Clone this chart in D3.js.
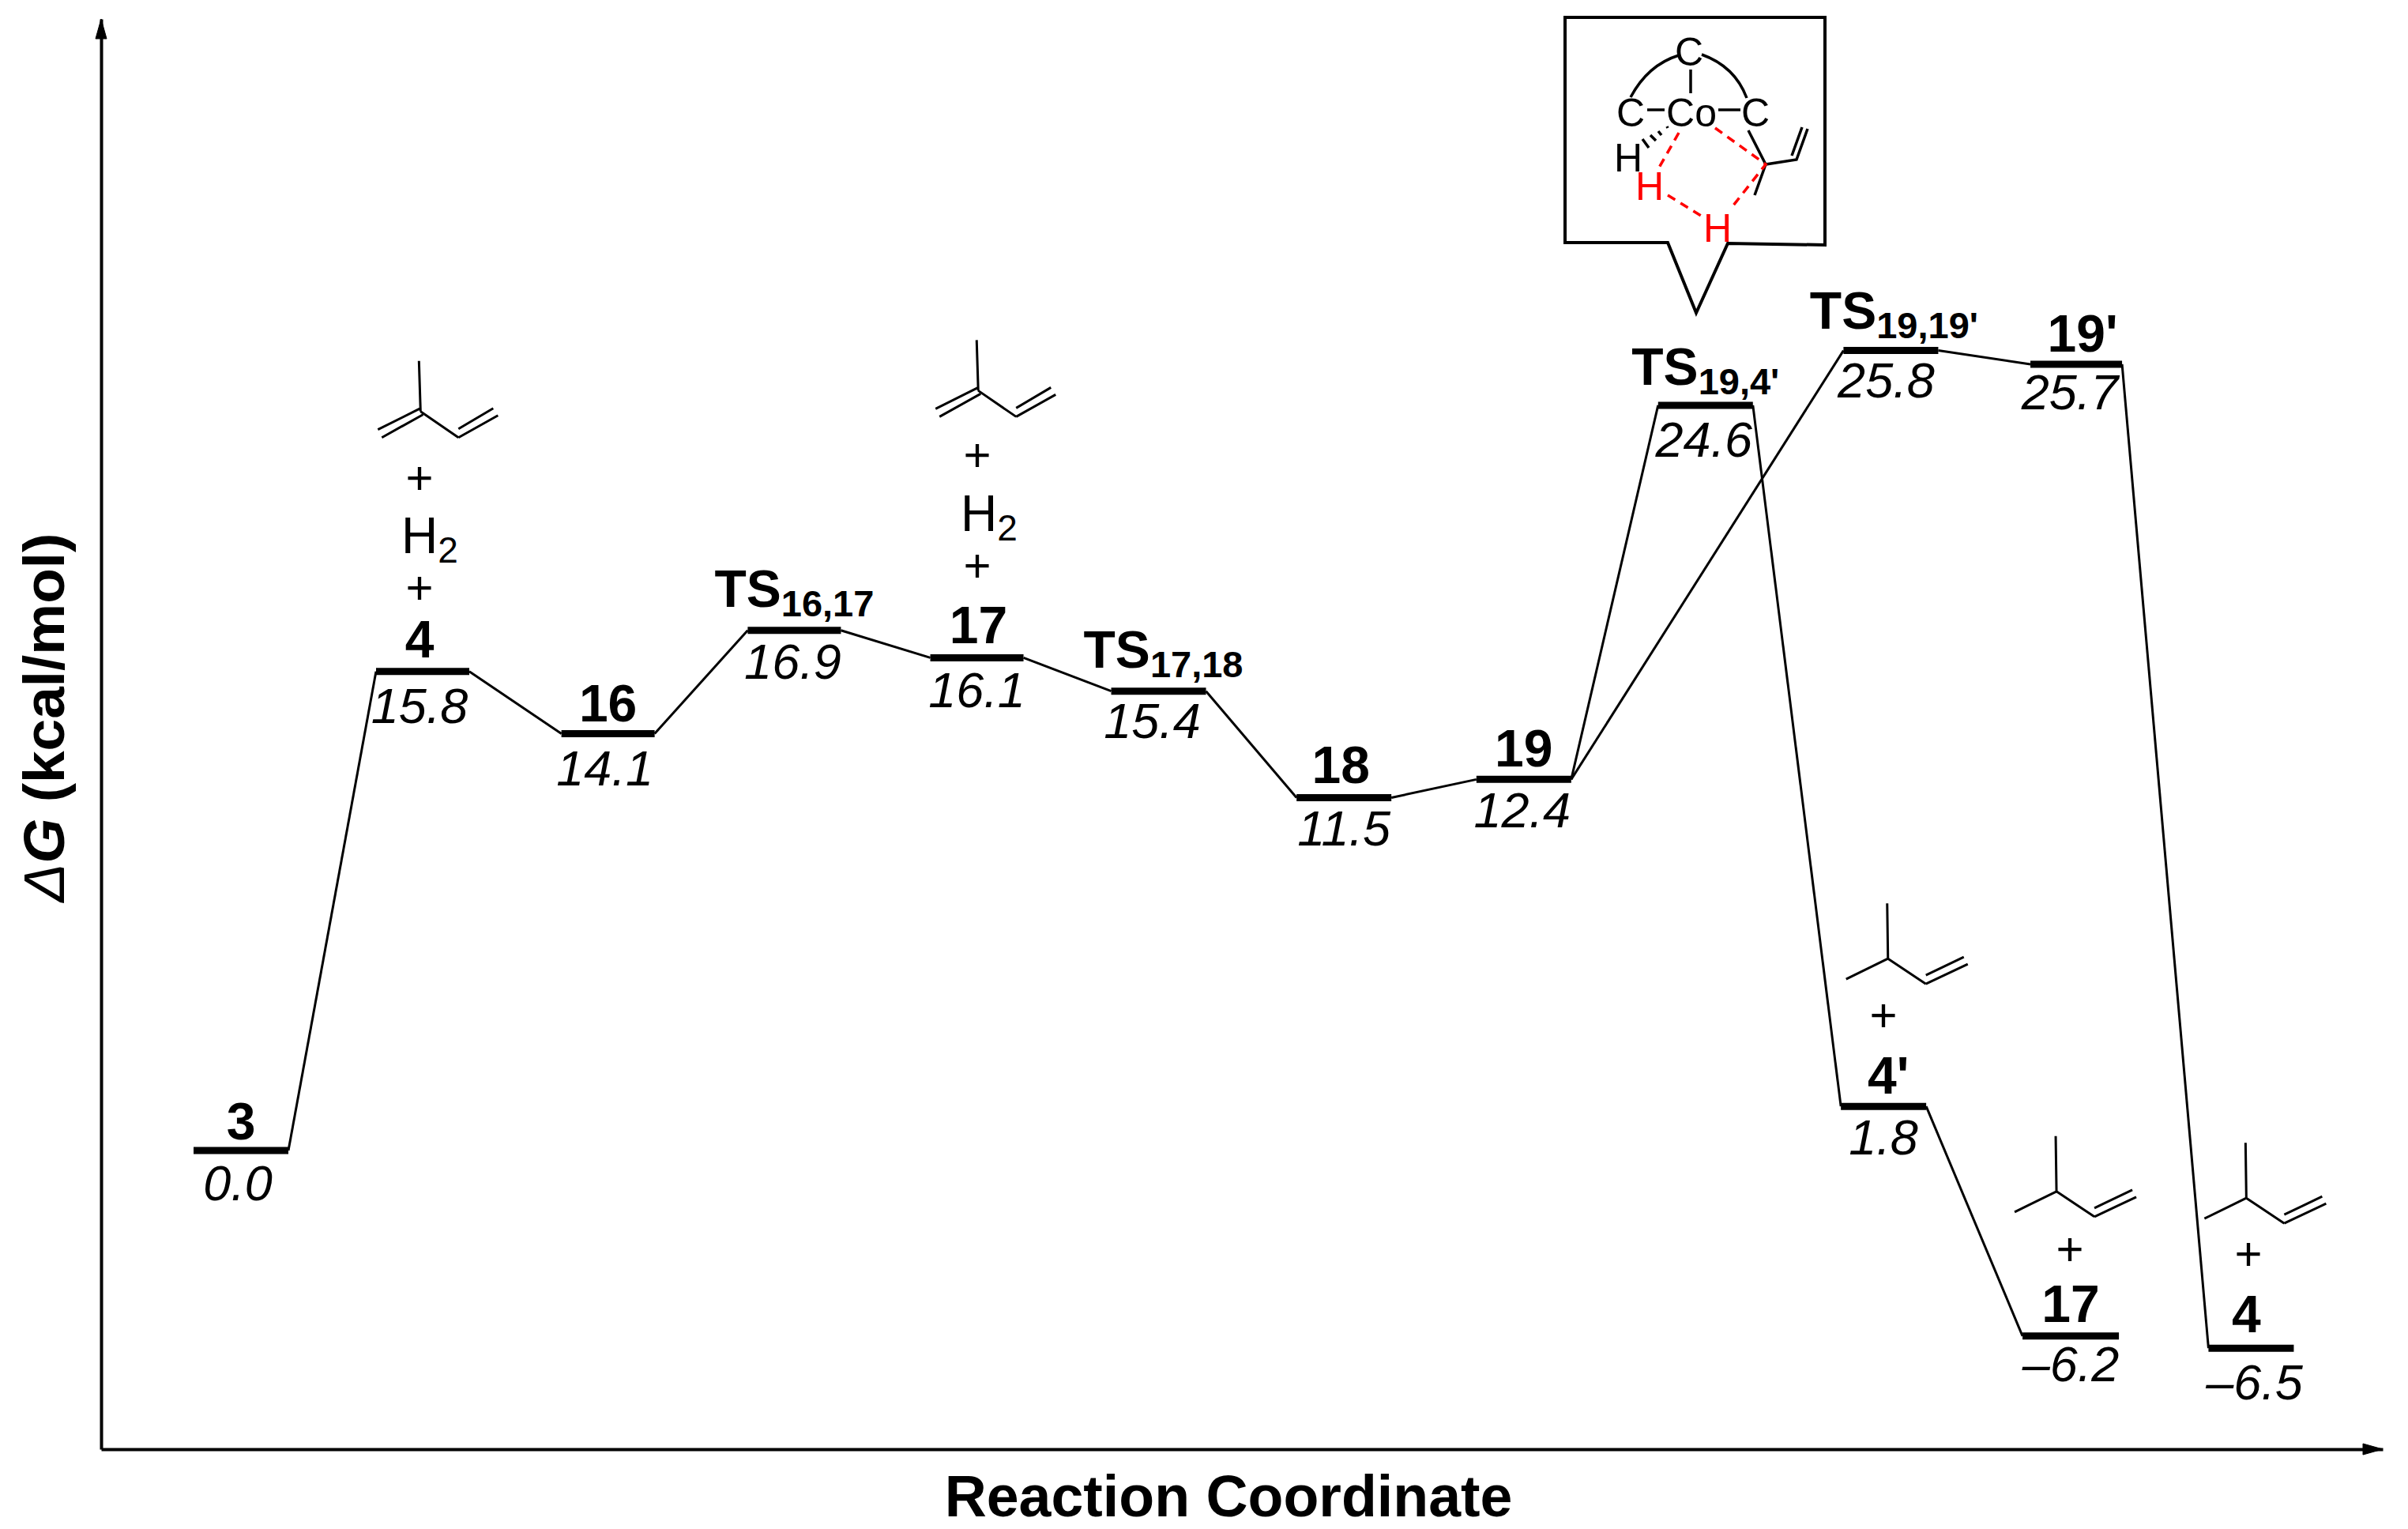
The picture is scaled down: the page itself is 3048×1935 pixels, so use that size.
<!DOCTYPE html>
<html>
<head>
<meta charset="utf-8">
<script src="https://cdn.jsdelivr.net/npm/d3@7"></script>
<style>
  html, body { margin: 0; padding: 0; background: #fff; }
  svg { display: block; }
  text { font-family: "Liberation Sans", Arial, sans-serif; fill: #000; }
</style>
</head>
<body>
<div id="chart"></div>
<script>
// states along the reaction coordinate
const stateNames = ['3', '4', '16', 'TS', '17', 'TS', '18', '19', 'TS', 'TS', "19'", "4'", '17', '4'];
const stateSubs = ['', '', '', '16,17', '', '17,18', '', '', "19,4'", "19,19'", '', '', '', ''];
const stateSlots = [0, 0.99, 2, 3.015, 4.01, 5, 6.01, 6.99, 7.98, 8.99, 10, 8.95, 9.97, 10.953];
// printed energies (kcal/mol)
const stateEnergies = ['0.0', '15.8', '14.1', '16.9', '16.1', '15.4', '11.5', '12.4', '24.6', '25.8', '25.7', '1.8', '\u20136.2', '\u20136.5'];
// height where each level sits on the drawing, it does not follow the print exactly
const stateLevels = [0, 15.75, 13.7, 17.1, 16.2, 15.1, 11.6, 12.2, 24.5, 26.3, 25.85, 1.45, -6.1, -6.5];
const linkSource = [0, 1, 2, 3, 4, 5, 6, 7, 7, 8, 11, 9, 10];
const linkTarget = [1, 2, 3, 4, 5, 6, 7, 8, 9, 11, 12, 10, 13];

const xAxisTitle = 'Reaction Coordinate';

const width = 3048;
const height = 1935;

const x = d3.scaleLinear().domain([-0.762, 11.67]).range([128, 3016]);
const y = d3.scaleLinear().domain([-9.82, 37.2]).range([1834, 24]);

const barWidth = [120, 118, 118, 118, 118, 120, 120, 120, 120, 120, 116, 108, 122, 108];
const nameNudge = [[0, 0], [-4, -4], [0, -2], [0, -4], [2, -4], [6, -4], [-4, -4], [0, -2], [0, 0], [4, -2], [8, -2], [6, -2], [0, -4], [-6, -6]];
const valueNudge = [[-4, -2], [-4, 0], [-4, 0], [-2, -4], [0, -2], [-8, -6], [0, -4], [-2, -4], [-2, 0], [-6, -6], [-8, -8], [0, -4], [0, -8], [4, 0]];

const svg = d3.select('#chart').append('svg')
  .attr('width', width)
  .attr('height', height)
  .attr('viewBox', `0 0 ${width} ${height}`);

svg.append('rect').attr('width', width).attr('height', height).attr('fill', '#fff');

// axes, no ticks on this kind of diagram
const axisBottom = svg.append('g')
  .attr('transform', `translate(0,${y.range()[0]})`)
  .call(d3.axisBottom(x).tickValues([]).tickSizeOuter(0));
const axisLeft = svg.append('g')
  .attr('transform', `translate(${x.range()[0]},0)`)
  .call(d3.axisLeft(y).tickValues([]).tickSizeOuter(0));
svg.selectAll('.domain').attr('stroke', '#000').attr('stroke-width', 4);

// arrow heads
const xEnd = x.range()[1];
const yEnd = y.range()[1];
svg.append('path')
  .attr('d', `M${xEnd},${y.range()[0]} l-25,-7 l0,14 z`)
  .attr('stroke', '#000').attr('stroke-width', 1).attr('fill', '#000');
svg.append('path')
  .attr('d', `M${x.range()[0]},${yEnd} l-7,25 l14,0 z`)
  .attr('stroke', '#000').attr('stroke-width', 1).attr('fill', '#000');

// connectors
svg.append('g').selectAll('line')
  .data(d3.zip(linkSource, linkTarget))
  .join('line')
  .attr('x1', d => x(stateSlots[d[0]]) + barWidth[d[0]] / 2)
  .attr('y1', d => y(stateLevels[d[0]]))
  .attr('x2', d => x(stateSlots[d[1]]) - barWidth[d[1]] / 2)
  .attr('y2', d => y(stateLevels[d[1]]))
  .attr('stroke', '#000')
  .attr('stroke-width', 3);

// level bars
svg.append('g').selectAll('line')
  .data(stateNames.map((d, i) => i))
  .join('line')
  .attr('x1', i => x(stateSlots[i]) - barWidth[i] / 2)
  .attr('x2', i => x(stateSlots[i]) + barWidth[i] / 2)
  .attr('y1', i => y(stateLevels[i]))
  .attr('y2', i => y(stateLevels[i]))
  .attr('stroke', '#000')
  .attr('stroke-width', 9);

// state names
const names = svg.append('g').selectAll('text')
  .data(stateNames.map((d, i) => i))
  .join('text')
  .attr('x', i => x(stateSlots[i]) + nameNudge[i][0])
  .attr('y', i => y(stateLevels[i]) + nameNudge[i][1] + (stateSubs[i] ? -26 : -14))
  .attr('text-anchor', 'middle')
  .attr('font-size', 66)
  .attr('font-weight', 'bold');
names.append('tspan').text(i => stateNames[i]);
names.append('tspan')
  .text(i => stateSubs[i])
  .attr('font-size', 47)
  .attr('dy', 12);

// printed energies
svg.append('g').selectAll('text')
  .data(stateEnergies.map((d, i) => i))
  .join('text')
  .attr('x', i => x(stateSlots[i]) + valueNudge[i][0])
  .attr('y', i => y(stateLevels[i]) + valueNudge[i][1] + 65)
  .attr('text-anchor', 'middle')
  .attr('font-size', 63)
  .attr('font-style', 'italic')
  .text(i => stateEnergies[i]);

// axis titles
svg.append('text')
  .attr('x', 1555)
  .attr('y', 1919)
  .attr('text-anchor', 'middle')
  .attr('font-size', 73.5)
  .attr('font-weight', 'bold')
  .text(xAxisTitle);

const yTitle = svg.append('text')
  .attr('transform', 'translate(81,908) rotate(-90)')
  .attr('text-anchor', 'middle')
  .attr('font-size', 73)
  .attr('font-weight', 'bold');
yTitle.append('tspan').attr('font-weight', 'normal').attr('font-style', 'italic').text('\u0394');
yTitle.append('tspan').attr('font-style', 'italic').text('G');
yTitle.append('tspan').text(' (kcal/mol)');

// skeletal formulas that sit above some of the levels
const isopreneBonds = 'M-2,-64L0,0 M0,-4L-54,23 M3,4L-49,33 M0,0L48,33 M48,33L98,5 M48,22L92,-4';
const isopenteneBonds = 'M-1,-70L0,0 M0,0L-53,26 M0,0L48,32 M48,32L101,7 M48,21L96,-2';
const formulas = [
  { bonds: isopreneBonds, slot: 1, level: 15.75, dx: -5, dy: -329 },
  { bonds: isopreneBonds, slot: 4, level: 16.2, dx: 4, dy: -338 },
  { bonds: isopenteneBonds, slot: 9, level: 1.45, dx: -6, dy: -187 },
  { bonds: isopenteneBonds, slot: 10, level: -6.1, dx: -25, dy: -183 },
  { bonds: isopenteneBonds, slot: 11, level: -6.5, dx: -17, dy: -190 }
];
svg.append('g').selectAll('path')
  .data(formulas)
  .join('path')
  .attr('transform', d => `translate(${x(d.slot) + d.dx},${y(d.level) + d.dy})`)
  .attr('d', d => d.bonds)
  .attr('fill', 'none')
  .attr('stroke', '#000')
  .attr('stroke-width', 3);

// plus signs and H2 beside the levels
const plusSigns = [[531, 625], [531, 764], [1237, 596], [1237, 736], [2384, 1305], [2620, 1601], [2846, 1607]];
svg.append('g').selectAll('text')
  .data(plusSigns)
  .join('text')
  .attr('x', d => d[0])
  .attr('y', d => d[1])
  .attr('text-anchor', 'middle')
  .attr('font-size', 60)
  .text('+');

[[544, 700], [1252, 672]].forEach(p => {
  const h2 = svg.append('text').attr('x', p[0]).attr('y', p[1]).attr('text-anchor', 'middle').attr('font-size', 64);
  h2.append('tspan').text('H');
  h2.append('tspan').text('2').attr('font-size', 46).attr('dy', 12);
});

// callout with the transition state structure
const callout = svg.append('g');
callout.append('path')
  .attr('d', 'M1981,22 L2310,22 L2310,310 L2187,308 L2147,396 L2111,307 L1981,307 Z')
  .attr('fill', 'none')
  .attr('stroke', '#000')
  .attr('stroke-width', 4);

const blackBonds = [
  'M2064,123 Q2086,82 2125,70', 'M2154,69 Q2196,84 2211,124',
  'M2140,88 L2140,118', 'M2085,139 L2107,139', 'M2175,139 L2203,139',
  'M2213,165 L2235,208 L2274,202 L2288,163', 'M2268,197 L2281,161', 'M2235,208 L2221,247'
];
callout.append('g').selectAll('path')
  .data(blackBonds)
  .join('path')
  .attr('d', d => d)
  .attr('fill', 'none')
  .attr('stroke', '#000')
  .attr('stroke-width', 3.5);

const hashTicks = ['M2110,160 L2111,162', 'M2099,166 L2103,171', 'M2089,171 L2096,178', 'M2079,176 L2087,187'];
callout.append('g').selectAll('path')
  .data(hashTicks)
  .join('path')
  .attr('d', d => d)
  .attr('stroke', '#000')
  .attr('stroke-width', 3.5);

const redBonds = ['M2125,168 L2100,212', 'M2171,162 L2235,208 L2190,265', 'M2111,247 L2153,273'];
callout.append('g').selectAll('path')
  .data(redBonds)
  .join('path')
  .attr('d', d => d)
  .attr('fill', 'none')
  .attr('stroke', '#f00')
  .attr('stroke-width', 3.5)
  .attr('stroke-dasharray', '11,8');

const atoms = [
  ['C', 2138, 83, '#000'], ['C', 2064, 160, '#000'], ['Co', 2141, 160, '#000'], ['C', 2222, 160, '#000'],
  ['H', 2061, 217, '#000'], ['H', 2088, 253, '#f00'], ['H', 2174, 306, '#f00']
];
callout.append('g').selectAll('text')
  .data(atoms)
  .join('text')
  .attr('x', d => d[1])
  .attr('y', d => d[2])
  .attr('text-anchor', 'middle')
  .attr('font-size', 50)
  .style('fill', d => d[3])
  .text(d => d[0]);
</script>
</body>
</html>
